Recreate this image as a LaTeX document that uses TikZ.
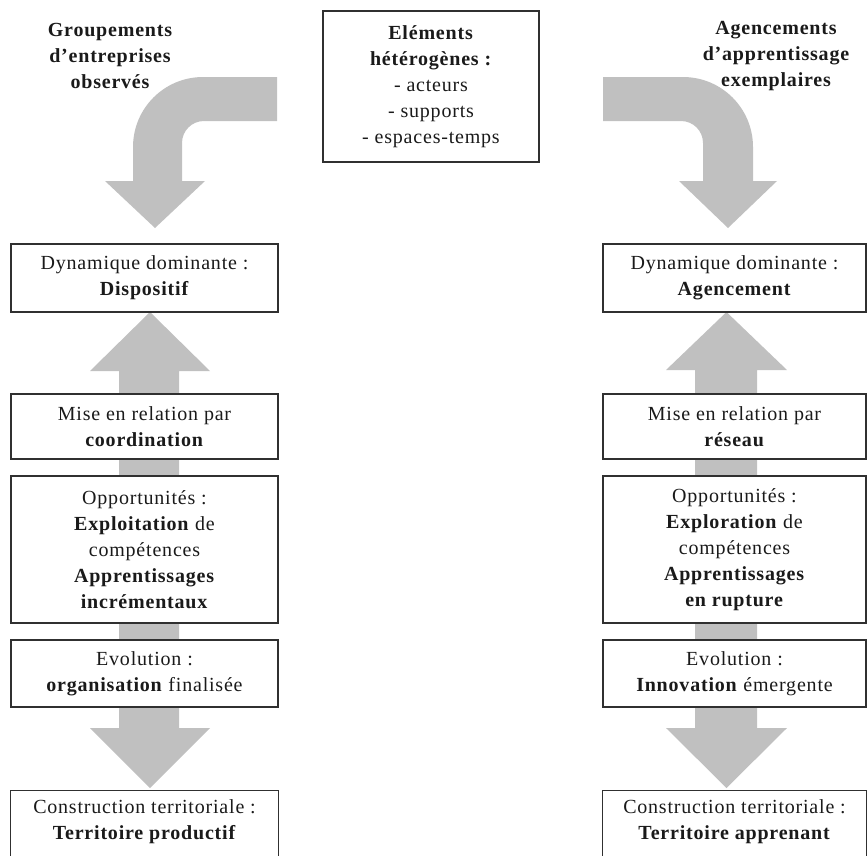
\documentclass[tikz,border=0pt]{standalone}
\usepackage{fontspec}
\setmainfont{Liberation Serif}[LetterSpace=4]
\usetikzlibrary{backgrounds,calc}
\definecolor{arrowgray}{HTML}{C0C0C0}
\definecolor{boxline}{HTML}{303030}
\definecolor{txt}{HTML}{1A1A1A}
\tikzset{
  box/.style={draw=boxline, line width=1.3pt, fill=white, align=center, inner sep=0pt, text=txt,
    font=\fontsize{20}{26}\selectfont},
  lbox/.style={box, minimum width=267pt},
  rbox/.style={box, minimum width=263pt},
  title/.style={align=center, inner sep=0pt, text=txt, font=\fontsize{20}{26}\selectfont\bfseries},
  blockarrow/.style={fill=arrowgray, draw=none}
}
\begin{document}
\begin{tikzpicture}[x=1pt,y=-1pt]
\useasboundingbox (0,0) rectangle (868,855);

% titles
\node[title] (tl) at (110,56) {Groupements\\d’entreprises\\observés};
\node[title] (tr) at (776,56) {Agencements\\d’apprentissage\\exemplaires};

% center box
\node[box, minimum width=216pt, minimum height=151pt] (ce) at (431,86.5)
  {\textbf{Eléments}\\\textbf{hétérogènes :}\\- acteurs\\- supports\\- espaces-temps};

% left column
\node[lbox, minimum height=68pt] (l1) at (144.5,278) {Dynamique dominante :\\\textbf{Dispositif}};
\node[lbox, minimum height=65pt] (l2) at (144.5,426.5) {Mise en relation par\\\textbf{coordination}};
\node[lbox, minimum height=147pt] (l3) at (144.5,549.5) {Opportunités :\\\textbf{Exploitation} de\\compétences\\\textbf{Apprentissages}\\\textbf{incrémentaux}};
\node[lbox, minimum height=67pt] (l4) at (144.5,673.5) {Evolution :\\\textbf{organisation} finalisée};
\node[lbox, minimum height=62pt, draw=none] (l5) at (144.5,822) {Construction territoriale :\\\textbf{Territoire productif}};
\draw[boxline, line width=1.3pt] ($(l5.south west)+(0,12)$) |- (l5.north east) -- ($(l5.south east)+(0,12)$);

% right column
\node[rbox, minimum height=68pt] (r1) at (734.5,278) {Dynamique dominante :\\\textbf{Agencement}};
\node[rbox, minimum height=65pt] (r2) at (734.5,426.5) {Mise en relation par\\\textbf{réseau}};
\node[rbox, minimum height=147pt] (r3) at (734.5,549.5) {Opportunités :\\\textbf{Exploration} de\\compétences\\\textbf{Apprentissages}\\\textbf{en rupture}};
\node[rbox, minimum height=67pt] (r4) at (734.5,673.5) {Evolution :\\\textbf{Innovation} émergente};
\node[rbox, minimum height=62pt, draw=none] (r5) at (734.5,822) {Construction territoriale :\\\textbf{Territoire apprenant}};
\draw[boxline, line width=1.3pt] ($(r5.south west)+(0,12)$) |- (r5.north east) -- ($(r5.south east)+(0,12)$);

\begin{scope}[on background layer]
% left bent arrow
\fill[blockarrow] (277,77) -- (203,77) .. controls (164.3,77) and (133,108.3) .. (133,147)
  -- (133,181) -- (105,181) -- (155,228) -- (205,181) -- (182,181) -- (182,143)
  .. controls (182,130.8) and (191.8,121) .. (204,121) -- (277,121) -- cycle;
% right bent arrow
\fill[blockarrow] (603,77) -- (683,77) .. controls (721.7,77) and (753,108.3) .. (753,147)
  -- (753,181) -- (777,181) -- (728,228) -- (679,181) -- (703,181) -- (703,143)
  .. controls (703,130.8) and (693.2,121) .. (681,121) -- (603,121) -- cycle;
% left vertical double arrow
\fill[blockarrow] (150,312) -- (210,371) -- (179,371) -- (179,728) -- (210,728) -- (150,788)
  -- (90,728) -- (119,728) -- (119,371) -- (90,371) -- cycle;
% right vertical double arrow
\fill[blockarrow] (726.5,312) -- (787,370) -- (757,370) -- (757,728) -- (787,728) -- (726.5,788)
  -- (666,728) -- (695,728) -- (695,370) -- (666,370) -- cycle;
\end{scope}
\end{tikzpicture}
\end{document}
